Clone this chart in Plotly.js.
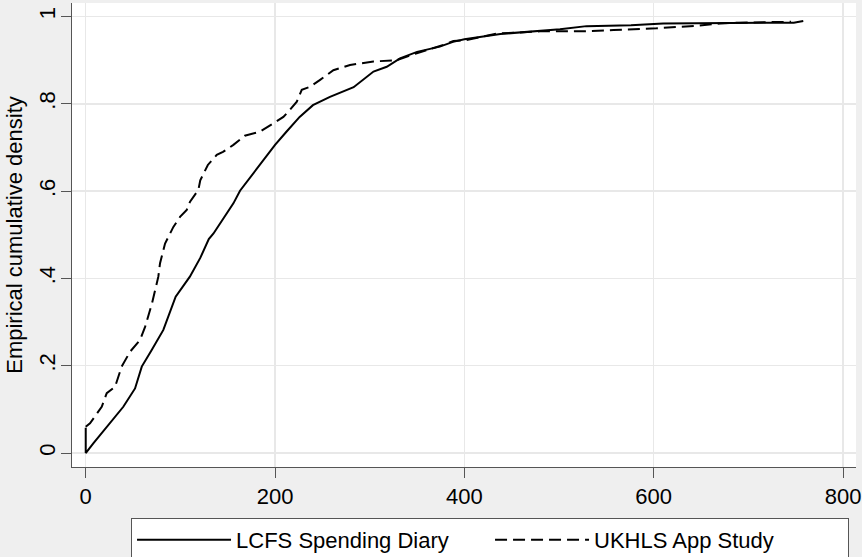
<!DOCTYPE html>
<html><head><meta charset="utf-8">
<script src="https://cdn.plot.ly/plotly-3.0.1.min.js"></script>
<style>html,body{margin:0;padding:0;background:#efefef;} #chart{width:862px;height:557px;}</style>
</head><body><div id="chart"></div>
<script>
// LCFS Spending Diary (solid)
const lcfsX = [0, 0, 8, 25.7, 39.7, 52.1, 59.2, 69.7, 82, 95, 110, 121, 130, 135, 146, 156, 163, 174, 188, 200, 212, 226, 240, 258, 283, 304, 318, 332, 350, 374, 388, 400, 438, 470, 501, 529, 576, 610, 691, 748, 758];
const lcfsY = [0.058, 0, 0.022, 0.068, 0.106, 0.148, 0.198, 0.236, 0.282, 0.358, 0.404, 0.447, 0.49, 0.503, 0.538, 0.572, 0.601, 0.633, 0.671, 0.706, 0.736, 0.770, 0.797, 0.816, 0.838, 0.874, 0.885, 0.904, 0.919, 0.931, 0.942, 0.948, 0.960, 0.966, 0.971, 0.978, 0.980, 0.984, 0.986, 0.986, 0.990];
// UKHLS App Study (dashed)
const ukhlsX = [0, 4.5, 16.9, 22.2, 31, 38, 46.8, 57.4, 62.7, 68, 70, 76.7, 78.5, 83.8, 92.6, 99.6, 106.7, 110.2, 119, 121, 129, 138.4, 145, 156, 168, 184, 194.6, 208.8, 214, 223, 228.2, 237, 247.6, 261.6, 279.2, 303.9, 328.6, 349.7, 377.8, 388.4, 402.5, 434, 480, 522, 557.5, 603, 645.5, 670, 690, 745];
const ukhlsY = [0.06, 0.068, 0.106, 0.137, 0.152, 0.198, 0.232, 0.259, 0.289, 0.328, 0.343, 0.404, 0.435, 0.48, 0.518, 0.541, 0.557, 0.576, 0.603, 0.625, 0.66, 0.683, 0.690, 0.706, 0.727, 0.736, 0.751, 0.770, 0.782, 0.805, 0.832, 0.839, 0.855, 0.877, 0.889, 0.897, 0.900, 0.916, 0.935, 0.944, 0.946, 0.961, 0.966, 0.966, 0.969, 0.973, 0.979, 0.984, 0.986, 0.988];
const seriesNames = ['LCFS Spending Diary', 'UKHLS App Study'];
const xTicks = [0, 200, 400, 600, 800];
const yTicks = [0, 0.2, 0.4, 0.6, 0.8, 1];
const yTickText = ['0', '.2', '.4', '.6', '.8', '1'];

const FONT = 'Liberation Sans, Arial, sans-serif';
const traces = [
  {x: lcfsX, y: lcfsY, name: seriesNames[0], type: 'scatter', mode: 'lines',
   line: {color: '#000', width: 2}},
  {x: ukhlsX, y: ukhlsY, name: seriesNames[1], type: 'scatter', mode: 'lines',
   line: {color: '#000', width: 2, dash: '12px,6px'}}
];
const axisCommon = {
  showgrid: true, gridcolor: '#e8e8e8', gridwidth: 1.5, zeroline: false,
  showline: true, linecolor: '#555', linewidth: 1,
  ticks: 'outside', ticklen: 10, tickcolor: '#555', tickwidth: 1,
  tickfont: {family: FONT, size: 22, color: '#000'}, automargin: false
};
const layout = {
  width: 862, height: 557,
  paper_bgcolor: '#efefef', plot_bgcolor: '#ffffff',
  margin: {l: 72, r: 6, t: 3, b: 90, autoexpand: false},
  font: {family: FONT, size: 22, color: '#000'},
  xaxis: Object.assign({}, axisCommon, {range: [-14.5, 813.7], tickmode: 'array', tickvals: xTicks}),
  yaxis: Object.assign({}, axisCommon, {range: [-0.032, 1.031], tickmode: 'array', tickvals: yTicks, ticktext: yTickText,
    tickangle: -90, ticklabelstandoff: -3,
    title: {text: 'Empirical cumulative density', font: {family: FONT, size: 22, color: '#000'}, standoff: 6}}),
  showlegend: true,
  legend: {orientation: 'h', x: 0.0753, xanchor: 'left', y: -0.1099, yanchor: 'top',
    bgcolor: '#ffffff', bordercolor: '#555', borderwidth: 1, itemwidth: 94, entrywidth: 249,
    font: {family: FONT, size: 22, color: '#000'}}
};
Plotly.newPlot('chart', traces, layout, {staticPlot: true, displayModeBar: false});
</script>
</body></html>
